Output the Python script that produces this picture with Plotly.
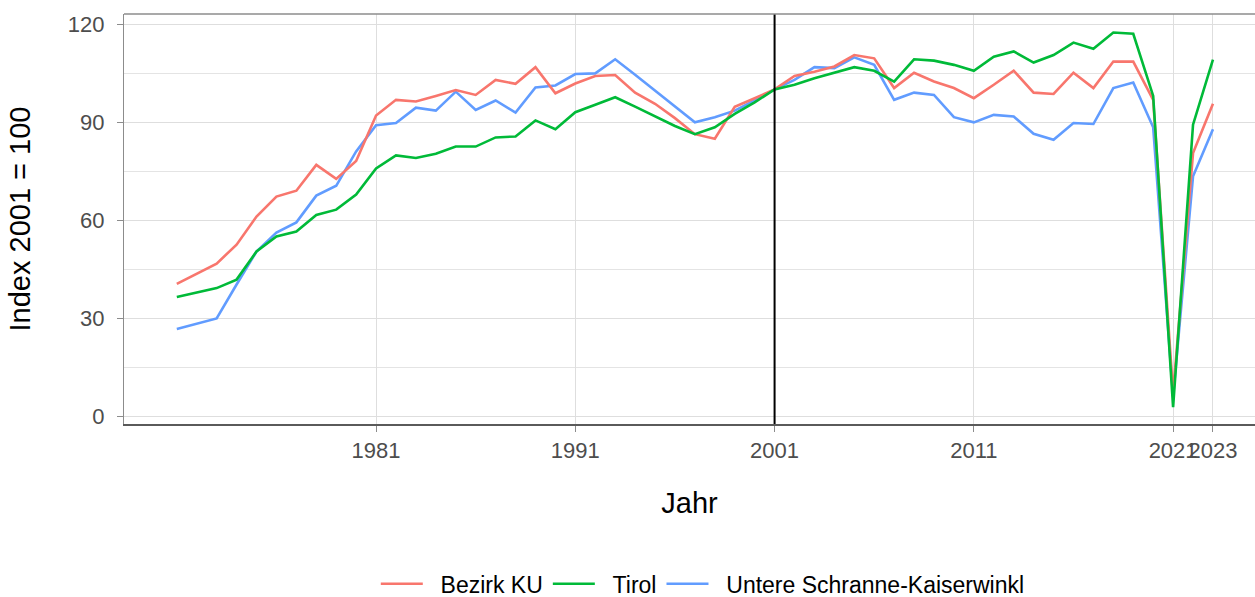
import plotly.graph_objects as go

# ---- data ----
years = [1971, 1973, 1974, 1975, 1976, 1977, 1978, 1979, 1980,
         1981, 1982, 1983, 1984, 1985, 1986, 1987, 1988, 1989, 1990,
         1991, 1992, 1993, 1994, 1995, 1996, 1997, 1998, 1999, 2000,
         2001, 2002, 2003, 2004, 2005, 2006, 2007, 2008, 2009, 2010,
         2011, 2012, 2013, 2014, 2015, 2016, 2017, 2018, 2019, 2020,
         2021, 2022, 2023]

bezirk_ku = [40.5, 46.7, 52.5, 61.1, 67.2, 69.0, 76.9, 72.6, 78.1,
             92.0, 96.8, 96.3, 98.0, 99.8, 98.3, 102.9, 101.7, 106.8, 98.8,
             101.8, 104.1, 104.4, 99.0, 95.6, 91.2, 86.3, 84.9, 94.7, 97.3,
             100.0, 104.1, 105.4, 107.0, 110.5, 109.5, 100.4, 105.1, 102.4, 100.4,
             97.3, 101.4, 105.7, 99.0, 98.6, 105.1, 100.4, 108.5, 108.5, 96.8,
             7.0, 80.5, 95.6]

tirol = [36.5, 39.2, 41.8, 50.4, 55.0, 56.5, 61.6, 63.2, 67.8,
         75.8, 79.8, 79.0, 80.3, 82.5, 82.5, 85.3, 85.6, 90.5, 87.8,
         93.0, 95.3, 97.6, 94.7, 91.7, 88.8, 86.3, 88.4, 92.5, 96.0,
         100.0, 101.4, 103.4, 105.1, 106.8, 105.7, 102.4, 109.2, 108.8, 107.5,
         105.7, 110.0, 111.6, 108.2, 110.5, 114.3, 112.4, 117.4, 117.0, 98.0,
         2.8, 89.2, 109.1]

untere_schranne = [26.7, 29.9, 40.3, 50.4, 56.2, 59.3, 67.5, 70.5, 81.0,
                   89.0, 89.7, 94.4, 93.5, 99.3, 93.7, 96.6, 92.9, 100.6, 101.2,
                   104.7, 104.9, 109.2, 104.5, 99.6, 94.7, 89.9, 91.5, 93.5, 96.6,
                   100.0, 102.9, 106.8, 106.5, 109.8, 107.5, 96.8, 99.0, 98.3, 91.5,
                   89.9, 92.2, 91.7, 86.4, 84.6, 89.7, 89.4, 100.4, 102.1, 88.4,
                   6.0, 73.4, 87.8]

x_ticks = [1981, 1991, 2001, 2011, 2021, 2023]
x_ticktext = ["1981", "1991", "2001", "2011", "2021", "2023"]
y_ticks = [0, 30, 60, 90, 120]
ref_year = 2001

series_names = ["Bezirk KU", "Tirol", "Untere Schranne-Kaiserwinkl"]
series_values = [bezirk_ku, tirol, untere_schranne]
series_colors = ["#F8766D", "#00BA38", "#619CFF"]

FONT = "Liberation Sans, Arial, sans-serif"
NB = "\u00a0"

fig = go.Figure()
# draw order: blue, red, green (green on top); legend order via legendrank
draw_order = [2, 0, 1]
for i in draw_order:
    label = NB * 2 + series_names[i]
    fig.add_trace(go.Scatter(
        x=years, y=series_values[i], mode="lines", name=label,
        line=dict(color=series_colors[i], width=2.6),
        legendrank=i + 1,
    ))

fig.add_shape(type="line", xref="x", yref="paper", x0=ref_year, x1=ref_year,
              y0=0, y1=1, line=dict(color="black", width=2), layer="above")
# top border of panel
fig.add_shape(type="line", xref="paper", yref="paper", x0=0, x1=1, y0=1, y1=1,
              line=dict(color="#8c8c8c", width=1.3), layer="above")

fig.update_layout(
    width=1255, height=597,
    margin=dict(l=124, r=0, t=14, b=172.5),
    paper_bgcolor="white", plot_bgcolor="white",
    font=dict(family=FONT, color="#4d4d4d"),
    showlegend=True,
    legend=dict(orientation="h", xref="container", yref="container",
                x=0.560, xanchor="center", y=0.022, yanchor="middle",
                font=dict(size=23, color="black", family=FONT),
                traceorder="normal", itemwidth=42),
)

fig.update_xaxes(
    range=[1968.35, 2025.11],
    tickmode="array", tickvals=x_ticks, ticktext=x_ticktext, tickangle=0,
    tickfont=dict(size=22, color="#4d4d4d"),
    ticks="outside", ticklen=6, tickcolor="#8c8c8c", tickwidth=1,
    showgrid=True, gridcolor="#dedede", gridwidth=1.2,
    showline=True, linecolor="#5a5a5a", linewidth=2,
    zeroline=False,
    title=dict(text="Jahr", font=dict(size=29, color="black"), standoff=30),
)

fig.update_yaxes(
    range=[-2.38, 123.06],
    tickmode="array", tickvals=y_ticks,
    tickfont=dict(size=22, color="#4d4d4d"),
    ticks="outside", ticklen=6, tickcolor="#8c8c8c", tickwidth=1,
    ticklabelstandoff=8,
    showgrid=True, gridcolor="#dedede", gridwidth=1.2,
    minor=dict(dtick=15, tick0=0, showgrid=True, gridcolor="#e4e4e4",
               gridwidth=1, ticks=""),
    showline=True, linecolor="#8c8c8c", linewidth=1.3,
    zeroline=False,
    title=dict(text="Index 2001 = 100", font=dict(size=29, color="black"),
               standoff=28),
)

fig.write_html(
    "out.html",
    config={"displayModeBar": False},
    post_script="document.body.style.margin='0px';document.body.style.padding='0px';",
)
